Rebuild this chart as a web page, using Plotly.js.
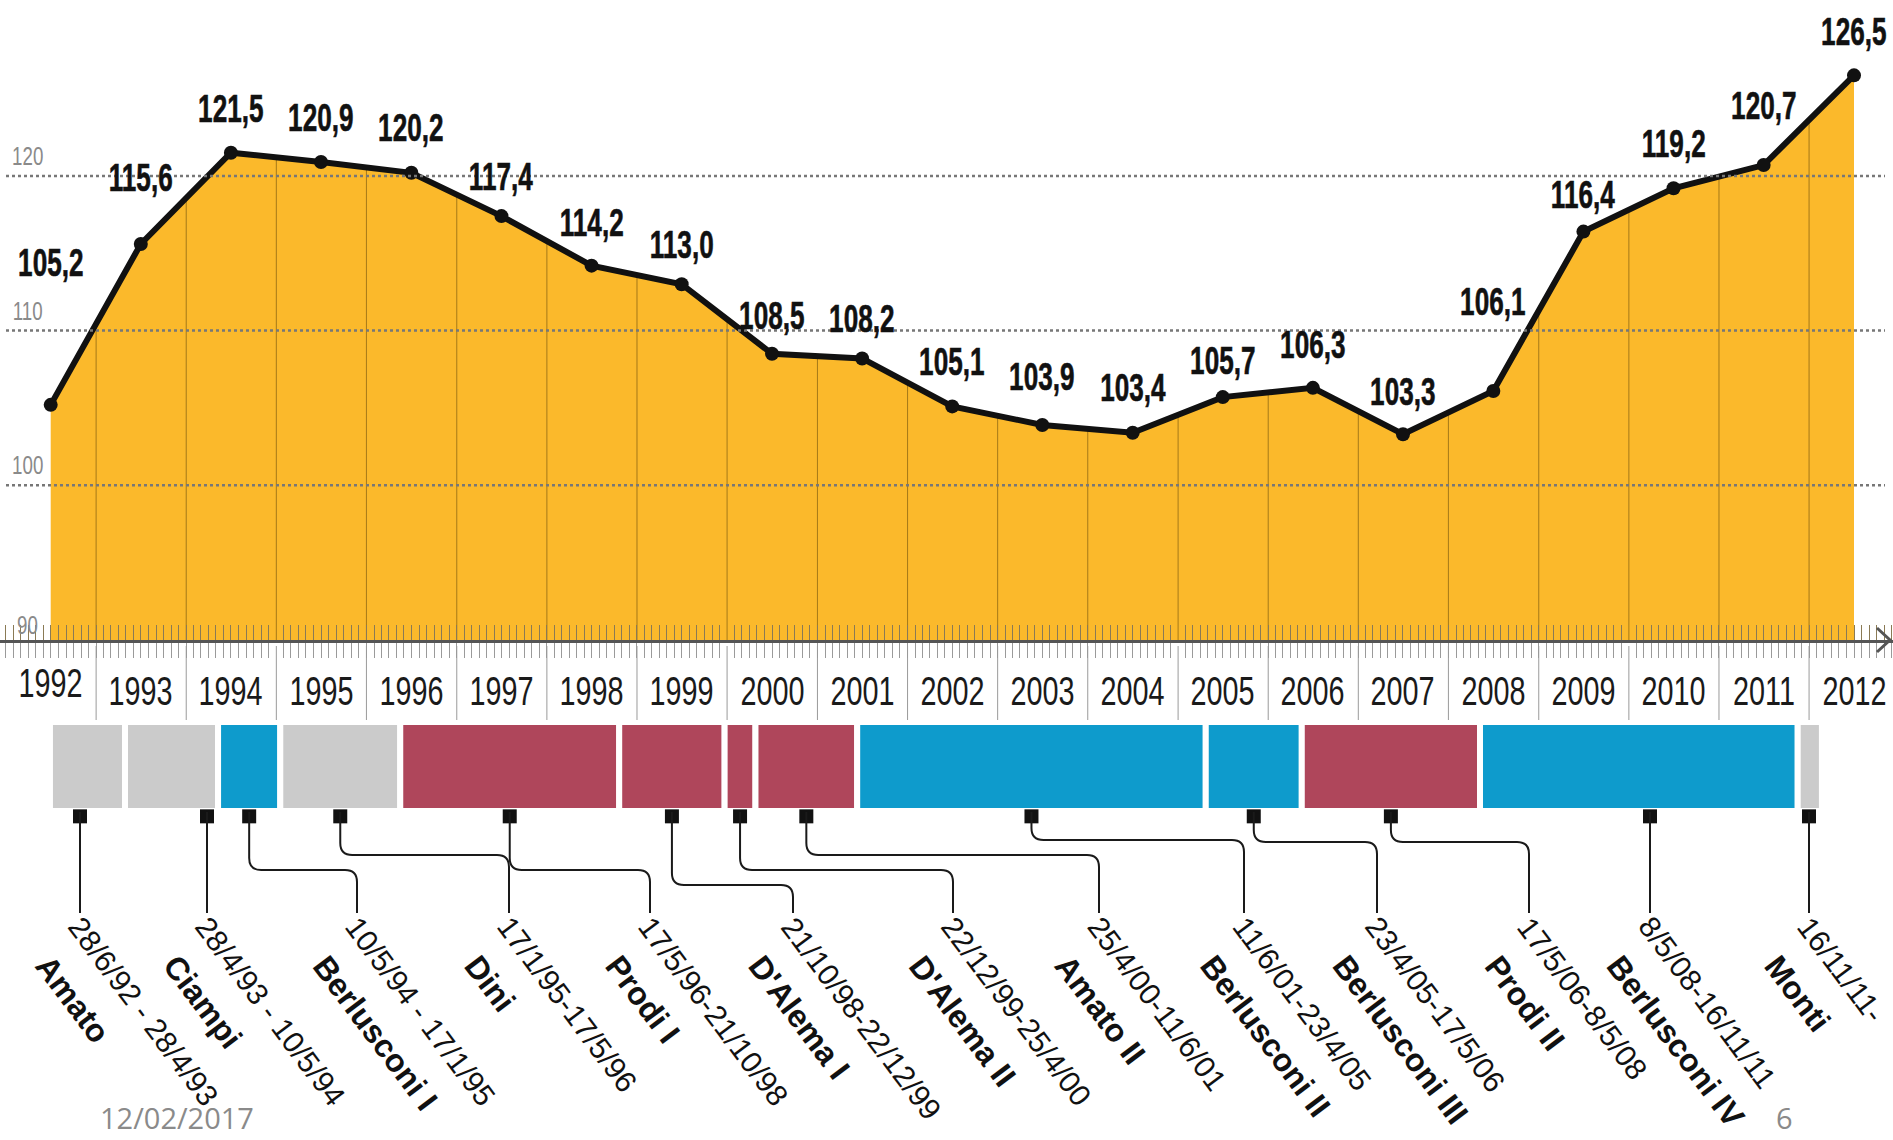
<!DOCTYPE html>
<html>
<head>
<meta charset="utf-8">
<script src="https://cdn.plot.ly/plotly-3.0.1.min.js"></script>
<style>
html,body{margin:0;padding:0;background:#ffffff;}
#chart{width:1893px;height:1140px;}
/* condensed look for centred labels (years, y ticks) */
#chart text.annotation-text[text-anchor="middle"]{
  transform-box: fill-box; transform-origin: center; transform: scaleX(0.72);
}
/* value labels: heavier, more condensed */
#chart text.annotation-text[text-anchor="middle"][style*="bold"]{
  transform: scaleX(0.67); stroke:#111; stroke-width:0.6px;
}
</style>
</head>
<body>
<div id="chart"></div>
<script>
// ---------------- DATA ----------------
const YEARS = [1992,1993,1994,1995,1996,1997,1998,1999,2000,2001,2002,2003,2004,2005,2006,2007,2008,2009,2010,2011,2012];
const DEBT  = [105.2,115.6,121.5,120.9,120.2,117.4,114.2,113.0,108.5,108.2,105.1,103.9,103.4,105.7,106.3,103.3,106.1,116.4,119.2,120.7,126.5];
const Y_TICKS = [90,100,110,120];

const GOV_NAMES   = ['Amato','Ciampi','Berlusconi I','Dini','Prodi I',"D'Alema I","D'Alema II",'Amato II','Berlusconi II','Berlusconi III','Prodi II','Berlusconi IV','Monti'];
const GOV_PERIODS = ['28/6/92 - 28/4/93','28/4/93 - 10/5/94','10/5/94 - 17/1/95','17/1/95-17/5/96','17/5/96-21/10/98','21/10/98-22/12/99','22/12/99-25/4/00','25/4/00-11/6/01','11/6/01-23/4/05','23/4/05-17/5/06','17/5/06-8/5/08','8/5/08-16/11/11','16/11/11-'];
const GOV_START   = ['1992-06-28','1993-04-28','1994-05-10','1995-01-17','1996-05-17','1998-10-21','1999-12-22','2000-04-25','2001-06-11','2005-04-23','2006-05-17','2008-05-08','2011-11-16'];
const GOV_END     = ['1993-04-28','1994-05-10','1995-01-17','1996-05-17','1998-10-21','1999-12-22','2000-04-25','2001-06-11','2005-04-23','2006-05-17','2008-05-08','2011-11-16','2012-02-22'];
const GOV_SIDE    = ['tecnico','tecnico','cdx','tecnico','csx','csx','csx','csx','cdx','cdx','csx','cdx','tecnico'];

// ---------------- STYLE / LAYOUT CONSTANTS ----------------
const W = 1893, H = 1140;
const SANS = '"Liberation Sans", Arial, sans-serif';
const YELLOW = '#FBB92B';
const SIDE_COLOR = {tecnico:'#CBCBCB', cdx:'#0E9BCC', csx:'#AF465B'};
const PLOT_BOTTOM_PX = 640;     // axis line position
const FIRST_PX = 50.7, LAST_PX = 1854;   // pixel x of first / last point
const PX_PER_UNIT = 15.47;
const LABEL_LIFT = [142,66,44,44,45,40,43,40,38,40,45,48,45,37,43,43,89,37,45,60,44];
const LABEL_PX = [80,207,357,509,650,793,953,1099,1244,1377,1529,1650,1809];
const JOG_PX   = [null,null,870,855,870,885,870,855,840,842,842,null,null];
const MARK_Y = 812, END_Y = 913, TEXT_Y = 908, TEXT_DX = 12;
const ANG = 53;

// ---------------- helpers ----------------
const ms = s => Date.parse(s + 'T00:00:00Z');
const iso = t => new Date(t).toISOString().replace('T',' ').replace('Z','');
const pointDates = YEARS.map(y => y + '-07-01');
const t0 = ms(pointDates[0]), t1 = ms(pointDates[pointDates.length-1]);
const pxPerMs = (LAST_PX - FIRST_PX) / (t1 - t0);
const r0 = t0 - FIRST_PX / pxPerMs;
const r1 = t0 + (W - FIRST_PX) / pxPerMs;
const toPx = t => (t - r0) * pxPerMs;
const fromPx = p => r0 + p / pxPerMs;
const yMax = 90 + PLOT_BOTTOM_PX / PX_PER_UNIT;
const px2py = p => 1 - p / H;
const fmt = v => v.toFixed(1).replace('.', ',');

// ---------------- traces ----------------
const traces = [];
// yellow area
traces.push({type:'scatter', mode:'lines', x: pointDates, y: DEBT, fill:'tozeroy',
  fillcolor: YELLOW, line:{width:0, color:YELLOW}, hoverinfo:'skip', showlegend:false});
// year separators (inside the area)
const sepX = [], sepY = [];
YEARS.slice(1).forEach(y => { sepX.push(y + '-01-01', y + '-01-01', null); sepY.push(90, yMax, null); });
traces.push({type:'scatter', mode:'lines', x: sepX, y: sepY, line:{width:1, color:'rgba(95,70,10,0.55)'},
  hoverinfo:'skip', showlegend:false});
// white mask above the curve
traces.push({type:'scatter', mode:'lines', x: pointDates, y: YEARS.map(() => yMax), line:{width:0, color:'#fff'},
  hoverinfo:'skip', showlegend:false});
traces.push({type:'scatter', mode:'lines', x: pointDates, y: DEBT, fill:'tonexty', fillcolor:'#ffffff',
  line:{width:0, color:'#fff'}, hoverinfo:'skip', showlegend:false});
// main line
traces.push({type:'scatter', mode:'lines+markers', x: pointDates, y: DEBT, xaxis:'x2', yaxis:'y',
  line:{width:6, color:'#111'}, marker:{size:14, color:'#111'}, hoverinfo:'x+y', showlegend:false, cliponaxis:false});
// government bars
traces.push({type:'bar', orientation:'h', xaxis:'x', yaxis:'y2',
  base: GOV_START, x: GOV_START.map((s,i) => ms(GOV_END[i]) - ms(s)), y: GOV_START.map(() => 0),
  width: 1, marker:{color: GOV_SIDE.map(s => SIDE_COLOR[s]), line:{color:'#ffffff', width:6}},
  text: GOV_NAMES, hoverinfo:'text', textposition:'none', showlegend:false});

// marker positions (bar centre, or straight above the label when it lies within the bar)
const markPx = GOV_START.map((s,i) => {
  const a = toPx(ms(s)), b = toPx(ms(GOV_END[i]));
  const lx = LABEL_PX[i];
  return (lx >= a && lx <= b) ? lx : (a + b) / 2;
});
traces.push({type:'scatter', mode:'markers', xaxis:'x', yaxis:'y2',
  x: markPx.map(p => iso(fromPx(p))), y: markPx.map(() => -0.56),
  marker:{symbol:'square', size:14, color:'#111'}, cliponaxis:false, hoverinfo:'skip', showlegend:false});

// ---------------- shapes ----------------
const shapes = [];
// dotted gridlines
Y_TICKS.filter(v => v > 90).forEach(v => shapes.push({type:'line', layer:'above', xref:'paper', yref:'y',
  x0: 6/W, x1: 1885/W, y0: v, y1: v, line:{color:'#777', width:2.5, dash:'dot'}}));
// year separators below the axis
YEARS.slice(1).forEach(y => shapes.push({type:'line', xref:'x', yref:'paper',
  x0: y + '-01-01', x1: y + '-01-01', y0: px2py(646), y1: px2py(720), line:{color:'#9a9a9a', width:1}}));
// arrow head on axis
shapes.push({type:'path', xref:'paper', yref:'paper', layer:'above',
  path: `M ${1877/W},${px2py(PLOT_BOTTOM_PX-12)} L ${1890/W},${px2py(PLOT_BOTTOM_PX)} L ${1877/W},${px2py(PLOT_BOTTOM_PX+12)}`,
  line:{color:'#555', width:3}});
// connectors
const R = 12;
markPx.forEach((mx, i) => {
  const lx = LABEL_PX[i], jy = JOG_PX[i];
  const X = p => (p / W), Y = p => px2py(p);
  let path;
  if (jy === null) {
    path = `M ${X(mx)},${Y(MARK_Y)} L ${X(mx)},${Y(END_Y)}`;
  } else {
    path = `M ${X(mx)},${Y(MARK_Y)} L ${X(mx)},${Y(jy - R)} Q ${X(mx)},${Y(jy)} ${X(mx + R)},${Y(jy)} ` +
           `L ${X(lx - R)},${Y(jy)} Q ${X(lx)},${Y(jy)} ${X(lx)},${Y(jy + R)} L ${X(lx)},${Y(END_Y)}`;
  }
  shapes.push({type:'path', xref:'paper', yref:'paper', path, line:{color:'#1a1a1a', width:2}});
});

// ---------------- annotations ----------------
const ann = [];
// value labels
DEBT.forEach((v,i) => ann.push({xref:'x', yref:'y', x: pointDates[i], y: v, text: fmt(v), showarrow:false,
  yshift: LABEL_LIFT[i], xanchor:'center', yanchor:'middle',
  font:{family:SANS, size:39, color:'#111', weight:'bold'}}));
// year labels
YEARS.forEach((y,i) => ann.push({xref:'x', yref:'paper', x: pointDates[i], y: px2py(i === 0 ? 683 : 691),
  text: String(y), showarrow:false, xanchor:'center', yanchor:'middle',
  font:{family:SANS, size:40, color:'#1a1a1a'}}));
// y tick labels
Y_TICKS.forEach(v => ann.push({xref:'paper', yref:'y', x: 27/W, y: v, text: String(v), showarrow:false,
  xanchor:'center', yanchor:'middle', yshift: v === 90 ? 15 : 20, font:{family:SANS, size:26, color:'#8a8a8a'}}));
// rotated government labels
const sinA = Math.sin(ANG*Math.PI/180);
const FS_DATE = 30, FS_NAME = 32;
const hDate = FS_DATE*1.3 + 2, hName = FS_NAME*1.3 + 2;
GOV_NAMES.forEach((n,i) => {
  const lx = LABEL_PX[i] + TEXT_DX;
  ann.push({xref:'paper', yref:'paper', x: (lx - hDate*sinA)/W, y: px2py(TEXT_Y), text: GOV_PERIODS[i],
    showarrow:false, textangle: ANG, xanchor:'left', yanchor:'top', align:'left',
    font:{family:SANS, size:FS_DATE, color:'#111'}});
  ann.push({xref:'paper', yref:'paper', x: (lx - 31 - hName*sinA)/W, y: px2py(TEXT_Y + 38), text: n,
    showarrow:false, textangle: ANG, xanchor:'left', yanchor:'top', align:'left',
    font:{family:SANS, size:FS_NAME, color:'#111', weight:'bold'}});
});
// footer
ann.push({xref:'paper', yref:'paper', x: 177/W, y: px2py(1117), text:'12/02/2017', showarrow:false, align:'right',
  xanchor:'center', yanchor:'middle', font:{family:'"Open Sans", "Noto Sans", sans-serif', size:29, color:'#8a8a8a'}});
ann.push({xref:'paper', yref:'paper', x: 1784/W, y: px2py(1117), text:'6', showarrow:false, align:'right',
  xanchor:'center', yanchor:'middle', font:{family:'"Open Sans", "Noto Sans", sans-serif', size:29, color:'#8a8a8a'}});

// ---------------- layout ----------------
const xCommon = {type:'date', range:[iso(r0), iso(r1)], fixedrange:true, showgrid:false, zeroline:false};
const Y2_MIN = -0.62;
const layout = {
  width: W, height: H,
  margin:{l:0, r:0, t:0, b:0, pad:0},
  paper_bgcolor:'#ffffff', plot_bgcolor:'rgba(0,0,0,0)',
  showlegend:false, barmode:'overlay',
  xaxis: Object.assign({}, xCommon, {
    anchor:'y', layer:'above traces',
    showline:true, linecolor:'#555', linewidth:3,
    showticklabels:false, ticks:'',
    minor:{tickmode:'linear', tick0:'1992-01-01', dtick:'M1', ticks:'outside', ticklen:15, tickwidth:1, tickcolor:'#9a9a9a', showgrid:false}
  }),
  xaxis2: Object.assign({}, xCommon, {
    overlaying:'x', matches:'x', anchor:'y', layer:'above traces',
    showline:false, showticklabels:false, ticks:'',
    minor:{tickmode:'linear', tick0:'1992-01-01', dtick:'M1', ticks:'inside', ticklen:15, tickwidth:1, tickcolor:'#8a7a55', showgrid:false}
  }),
  yaxis:{domain:[1 - PLOT_BOTTOM_PX/H, 1], range:[90, yMax], fixedrange:true,
    showgrid:false, zeroline:false, showticklabels:false, ticks:'', showline:false},
  yaxis2:{domain:[px2py(811 + (-0.5 - Y2_MIN)*89), px2py(722)], range:[Y2_MIN, 0.5], anchor:'x', fixedrange:true,
    showgrid:false, zeroline:false, showticklabels:false, ticks:'', showline:false},
  shapes, annotations: ann
};

Plotly.newPlot('chart', traces, layout, {displayModeBar:false, responsive:false});
</script>
</body>
</html>
